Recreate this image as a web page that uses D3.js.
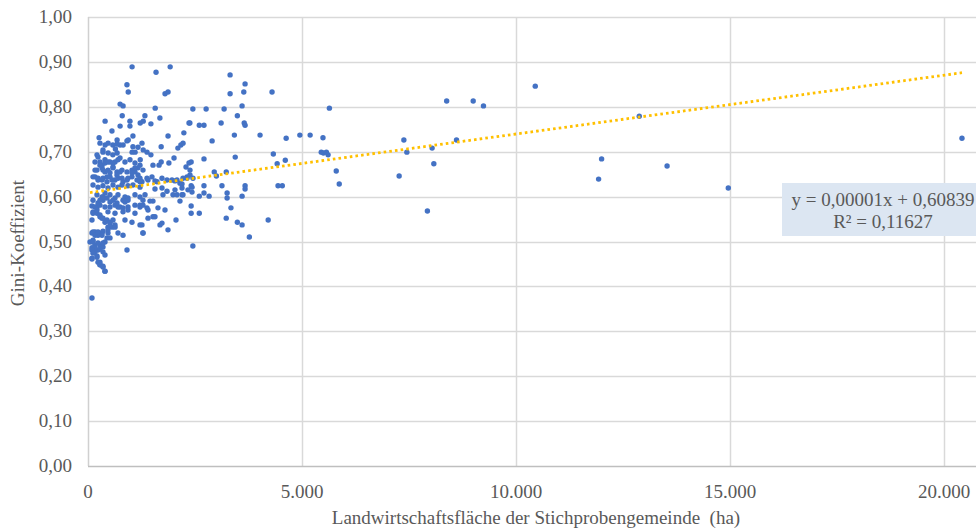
<!DOCTYPE html>
<html>
<head>
<meta charset="utf-8">
<script src="https://cdn.jsdelivr.net/npm/d3@7"></script>
<style>
  body { margin: 0; background: #fff; }
  text { font-family: "Liberation Serif", "Times New Roman", serif; fill: #595959; }
</style>
</head>
<body>
<div id="graphic"></div>
<script>
// Gemeinden: [Landwirtschaftsfläche (ha), Gini-Koeffizient]
const pointsSparse = [
  [4950,0.737],[5190,0.737],[5640,0.797],[5490,0.731],[5450,0.699],[5500,0.697],[5570,0.699],[5610,0.693],
  [5800,0.657],[5870,0.628],[7270,0.646],[7380,0.726],[7450,0.699],[7930,0.568],[8040,0.708],[8080,0.673],
  [8380,0.813],[8610,0.726],[9000,0.813],[9240,0.802],[10450,0.846],[11930,0.639],[12000,0.684],[12880,0.779],
  [13530,0.668],[14960,0.619],[20420,0.730]
];
const pointsMid = [
  [3320,0.871],[3670,0.851],[3320,0.829],[3640,0.833],[4300,0.833],[2450,0.795],[2760,0.795],[3180,0.795],
  [3600,0.802],[3490,0.780],[2380,0.764],[2600,0.759],[2710,0.759],[3110,0.764],[3650,0.764],[3670,0.759],
  [2900,0.724],[3420,0.737],[4020,0.737],[4630,0.730],[2410,0.677],[2710,0.684],[3440,0.688],[4330,0.695],
  [4420,0.673],[4610,0.681],[2950,0.655],[3000,0.646],[3230,0.655],[2410,0.624],[2710,0.624],[3130,0.624],
  [3670,0.624],[3670,0.617],[4440,0.624],[4540,0.624],[2600,0.601],[2710,0.608],[2830,0.601],[3250,0.608],
  [3250,0.597],[3600,0.601],[2410,0.579],[2410,0.563],[2600,0.563],[3340,0.575],[3230,0.552],[3490,0.543],
  [3600,0.537],[4210,0.548],[3770,0.510],[2450,0.490]
];
const pointsUpper = [
  [1030,0.889],[1590,0.877],[1920,0.889],[910,0.849],[940,0.833],[1800,0.829],[1870,0.833],[750,0.806],
  [820,0.802],[1570,0.797],[400,0.768],[800,0.780],[980,0.768],[980,0.757],[750,0.757],[1220,0.764],
  [1290,0.768],[1330,0.780],[1470,0.762],[1680,0.775],[2360,0.764],[560,0.746],[1050,0.735],[1870,0.735],
  [2240,0.742],[260,0.731],[280,0.719],[680,0.726],[910,0.724],[940,0.726],[580,0.715],[750,0.715],
  [820,0.715],[400,0.715],[350,0.704],[1050,0.711],[1290,0.704],[1380,0.699],[1710,0.711],[2100,0.708],
  [2170,0.715],[2220,0.719],[210,0.693],[470,0.697],[580,0.693],[680,0.697],[1030,0.699],[1100,0.699],
  [1220,0.682],[1470,0.693],[1710,0.677],[1660,0.670],[1890,0.675],[2010,0.686],[2290,0.666],[2360,0.675],
  [470,0.719],[680,0.717],[1168,0.710],[1261,0.719],[234,0.688],[350,0.699],[640,0.706],[1518,0.670],
  [2383,0.659]
];
const pointsCore = [
  [164,0.677],[280,0.677],[327,0.670],[397,0.682],[514,0.677],[584,0.675],[701,0.682],[748,0.686],
  [864,0.677],[981,0.682],[1098,0.675],[1215,0.670],
  [210,0.659],[327,0.664],[397,0.655],[467,0.659],[584,0.664],[677,0.655],[794,0.659],[911,0.655],
  [1028,0.659],[1098,0.655],[1168,0.664],[1285,0.659],
  [164,0.644],[234,0.637],[350,0.641],[444,0.633],[514,0.644],[631,0.637],[701,0.641],[818,0.633],
  [934,0.641],[1028,0.644],[1145,0.637],[1215,0.641],[1261,0.633],
  [117,0.626],[234,0.621],[350,0.624],[467,0.619],[584,0.626],[701,0.621],[794,0.626],[934,0.624],
  [1051,0.626],[1215,0.621],
  [210,0.604],[327,0.599],[397,0.608],[514,0.604],[631,0.597],[701,0.604],[864,0.599],[934,0.597],
  [1098,0.604],[1215,0.599],[350,0.592],[818,0.592],[1285,0.592],
  [93,0.579],[210,0.577],[280,0.581],[397,0.577],[514,0.577],[631,0.581],[701,0.577],[934,0.577],
  [1098,0.581],[1215,0.577],
  [117,0.566],[210,0.563],[280,0.559],[467,0.566],[631,0.563],[818,0.566],[934,0.570],[1098,0.563],
  [93,0.548],[327,0.552],[444,0.548],[514,0.541],[631,0.537],[467,0.532],[864,0.548],[1028,0.543],[1261,0.537],
  [93,0.519],[164,0.521],[234,0.514],[327,0.519],[350,0.523],[467,0.519],[701,0.519],[818,0.514],[1285,0.519],
  [47,0.499],[117,0.503],[164,0.492],[280,0.492],[350,0.488],[397,0.499],[444,0.508],[514,0.508],
  [93,0.486],[164,0.477],[234,0.481],[350,0.477],[397,0.470],[911,0.481],
  [93,0.463],[210,0.468],[280,0.454],[280,0.448],[350,0.443],[397,0.434],
  [93,0.374]
];
const pointsDense = [
  [117,0.644],[164,0.659],[280,0.670],[350,0.659],[234,0.641],[327,0.637],[444,0.644],[514,0.653],
  [561,0.637],[584,0.666],[631,0.677],[677,0.648],[748,0.655],[794,0.641],[397,0.675],[467,0.677],
  [911,0.637],[1028,0.653],[1098,0.664],[1168,0.648],[1215,0.633],
  [117,0.592],[164,0.577],[210,0.570],[117,0.563],[234,0.586],[280,0.592],[350,0.599],[444,0.597],
  [514,0.588],[584,0.592],[677,0.586],[748,0.577],[818,0.575],[864,0.588],[934,0.592],[280,0.555],
  [350,0.552],[397,0.543],[514,0.543],[584,0.548],[561,0.532],[631,0.532],[467,0.526],[117,0.521],
  [164,0.514],[234,0.521],[327,0.514],
  [117,0.499],[234,0.497],[350,0.497],[164,0.486],[93,0.481],[117,0.474],[280,0.483],[210,0.465],
  [93,0.461],[234,0.454],[280,0.448],[350,0.445],[397,0.434]
];
const pointsRight = [
  [1215,0.635],[1378,0.641],[1495,0.644],[1565,0.635],[1729,0.641],[2032,0.635],[2196,0.628],[2313,0.641],
  [2430,0.621],[2453,0.641],
  [1565,0.617],[1729,0.619],[1846,0.612],[2032,0.615],[2196,0.619],[2336,0.615],[2430,0.610],
  [1332,0.604],[1752,0.604],[1986,0.604],[2079,0.604],[2196,0.604],[2219,0.604],
  [1518,0.590],[1448,0.590],[1215,0.581],[1285,0.581],[1378,0.575],[1402,0.570],[1635,0.575],[1799,0.570],
  [2149,0.590],[1402,0.552],[1518,0.555],[1565,0.555],[2056,0.548],
  [1215,0.537],[1285,0.519],[1682,0.537],[1729,0.541],[1869,0.526],
  [1402,0.637],[1612,0.633],[1846,0.637],[1962,0.637],[2079,0.637],[2149,0.630],[2219,0.641],[2313,0.644],[2383,0.648]
];

const yTicks = [0, 0.1, 0.2, 0.3, 0.4, 0.5, 0.6, 0.7, 0.8, 0.9, 1.0];
const xTicks = [0, 5000, 10000, 15000, 20000];
const trendIntercept = 0.60839;
const trendSlope = 0.0000131;
const equationText = ['y = 0,00001x + 0,60839', 'R² = 0,11627'];
const xTitle = 'Landwirtschaftsfläche der Stichprobengemeinde  (ha)';
const yTitle = 'Gini-Koeffizient';

const allPoints = [].concat(pointsSparse, pointsMid, pointsUpper, pointsCore, pointsDense, pointsRight);

const width = 976, height = 530;
const margin = { left: 88, top: 17, bottom: 64 };

const de = d3.formatLocale({ decimal: ',', thousands: '.', grouping: [3], currency: ['', '€'] });

const x = d3.scaleLinear().domain([0, 25000]).range([margin.left, margin.left + 214 * 5]);
const y = d3.scaleLinear().domain([0, 1]).range([height - margin.bottom, margin.top]);

const svg = d3.select('#graphic').append('svg')
  .attr('width', width)
  .attr('height', height);

// gridlines
svg.append('g')
  .selectAll('line')
  .data(yTicks.slice(1))
  .join('line')
  .attr('x1', margin.left).attr('x2', width)
  .attr('y1', d => Math.round(y(d)) + 0.5).attr('y2', d => Math.round(y(d)) + 0.5)
  .attr('stroke', '#d9d9d9').attr('stroke-width', 1.5);

svg.append('g')
  .selectAll('line')
  .data(xTicks.slice(1))
  .join('line')
  .attr('x1', d => Math.round(x(d)) + 0.5).attr('x2', d => Math.round(x(d)) + 0.5)
  .attr('y1', y(1)).attr('y2', y(0))
  .attr('stroke', '#d9d9d9').attr('stroke-width', 1.5);

// axis lines
svg.append('line')
  .attr('x1', x(0) + 0.5).attr('x2', x(0) + 0.5)
  .attr('y1', y(1)).attr('y2', y(0))
  .attr('stroke', '#d0d0d0').attr('stroke-width', 1.5);
svg.append('line')
  .attr('x1', x(0)).attr('x2', width)
  .attr('y1', Math.round(y(0)) + 0.5).attr('y2', Math.round(y(0)) + 0.5)
  .attr('stroke', '#bfbfbf').attr('stroke-width', 1.5);

// tick labels
svg.append('g')
  .selectAll('text')
  .data(yTicks)
  .join('text')
  .attr('x', 72)
  .attr('y', d => y(d) + 6)
  .attr('text-anchor', 'end')
  .attr('font-size', 19)
  .text(d => de.format(',.2f')(d));

svg.append('g')
  .selectAll('text')
  .data(xTicks)
  .join('text')
  .attr('x', d => x(d))
  .attr('y', 498)
  .attr('text-anchor', 'middle')
  .attr('font-size', 19)
  .text(d => de.format(',.0f')(d));

// axis titles
svg.append('text')
  .attr('x', 536).attr('y', 524)
  .attr('text-anchor', 'middle')
  .attr('font-size', 19)
  .style('white-space', 'pre')
  .text(xTitle);

svg.append('text')
  .attr('transform', 'translate(24,243) rotate(-90)')
  .attr('text-anchor', 'middle')
  .attr('font-size', 19)
  .text(yTitle);

// points
svg.append('g')
  .selectAll('circle')
  .data(allPoints)
  .join('circle')
  .attr('cx', d => x(d[0]))
  .attr('cy', d => y(d[1]))
  .attr('r', 2.7)
  .attr('fill', '#4472c4');

// trendline
const xExtent = d3.extent(allPoints, d => d[0]);
svg.append('line')
  .attr('x1', x(xExtent[0])).attr('y1', y(trendIntercept + trendSlope * xExtent[0]))
  .attr('x2', x(xExtent[1])).attr('y2', y(trendIntercept + trendSlope * xExtent[1]))
  .attr('stroke', '#ffc000')
  .attr('stroke-width', 2.8)
  .attr('stroke-dasharray', '2.6 3.1');

// equation label
const eq = svg.append('g').attr('transform', 'translate(883,0)');
eq.append('rect')
  .attr('x', -101).attr('y', 183)
  .attr('width', 202).attr('height', 53)
  .attr('fill', '#dce6f2');
eq.selectAll('text')
  .data(equationText)
  .join('text')
  .attr('x', 0)
  .attr('y', (d, i) => 206 + i * 22)
  .attr('text-anchor', 'middle')
  .attr('font-size', 19)
  .text(d => d);
</script>
</body>
</html>
